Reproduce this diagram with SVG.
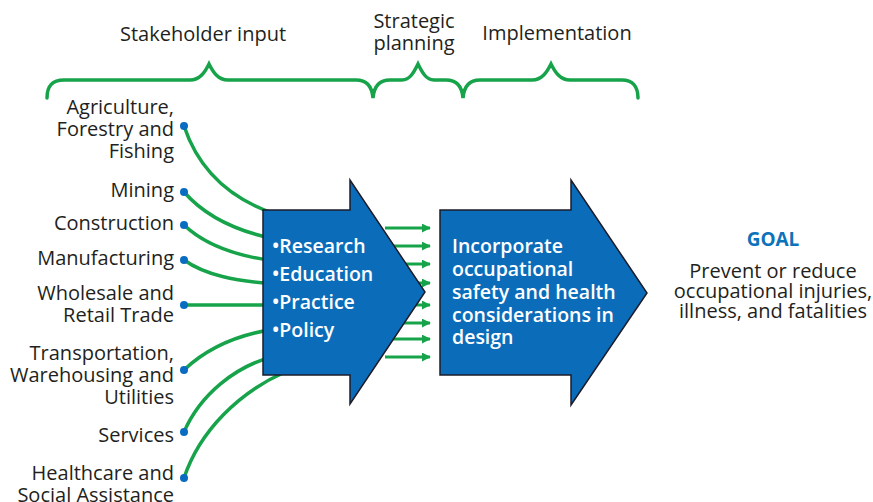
<svg xmlns="http://www.w3.org/2000/svg" width="873" height="502" viewBox="0 0 873 502">
<defs>
<style>
.t{font-family:"Open Sans","Liberation Sans",sans-serif;font-size:20px;fill:#231f20}
.l{text-anchor:end}
.w{font-family:"Open Sans","Liberation Sans",sans-serif;font-size:19.5px;font-weight:600;fill:#ffffff}
.g{fill:none;stroke:#16a34a;stroke-width:3.5;stroke-linecap:round}
.a{fill:none;stroke:#16a34a;stroke-width:3;marker-end:url(#ah)}
.dot{fill:#0a6cc0}
.blk{fill:#0b6dba;stroke:#1c1c2a;stroke-width:1.5;stroke-linejoin:miter}
</style>
<marker id="ah" viewBox="0 0 10 10" refX="9" refY="5" markerWidth="3" markerHeight="3" orient="auto" markerUnits="strokeWidth">
<path d="M0,0 L10,5 L0,10 z" fill="#16a34a"/>
</marker>
</defs>
<rect width="873" height="502" fill="#ffffff"/>
<g id="headers">
<text class="t" x="203" y="41" text-anchor="middle">Stakeholder input</text>
<text class="t" x="414" y="28" text-anchor="middle">Strategic</text>
<text class="t" x="414" y="50" text-anchor="middle">planning</text>
<text class="t" x="557" y="40" text-anchor="middle">Implementation</text>
<path class="g" stroke-width="4" d="M47,98 C47,86 52,80 64,80 L190,80 C200,80 205,72 209,64 C213,72 218,80 228,80 L356,80 C366,80 372,86 373,98 C374,86 380,80 390,80 L402,80 C410,80 414,72 418,64 C422,72 426,80 434,80 L446,80 C456,80 462,86 463,98 C464,86 470,80 480,80 L532,80 C542,80 547,72 551,64 C555,72 560,80 570,80 L622,80 C632,80 638,86 638,98"/>
</g>
<g id="connectors">
<path class="g" d="M184,126 C198,168 228,198 275,214"/>
<path class="g" d="M184,192 C205,216 235,231 275,239"/>
<path class="g" d="M184,225 C205,245 235,256 275,261"/>
<path class="g" d="M184,260 C205,275 235,281 275,284"/>
<path class="g" d="M184,305 L275,305"/>
<path class="g" d="M184,370 C205,350 235,335 275,329"/>
<path class="g" d="M184,432 C200,395 235,366 275,356"/>
<path class="g" d="M184,478 C200,430 240,392 285,372"/>
<line class="a" x1="385" y1="228" x2="430" y2="228"/>
<line class="a" x1="385" y1="246" x2="430" y2="246"/>
<line class="a" x1="385" y1="264" x2="430" y2="264"/>
<line class="a" x1="385" y1="283" x2="430" y2="283"/>
<line class="a" x1="385" y1="305" x2="430" y2="305"/>
<line class="a" x1="385" y1="323" x2="430" y2="323"/>
<line class="a" x1="385" y1="339" x2="430" y2="339"/>
<line class="a" x1="385" y1="357" x2="430" y2="357"/>
</g>
<g id="sources">
<circle class="dot" cx="184" cy="126" r="4"/>
<circle class="dot" cx="184" cy="192" r="4"/>
<circle class="dot" cx="184" cy="225" r="4"/>
<circle class="dot" cx="184" cy="260" r="4"/>
<circle class="dot" cx="184" cy="305" r="4"/>
<circle class="dot" cx="184" cy="370" r="4"/>
<circle class="dot" cx="184" cy="432" r="4"/>
<circle class="dot" cx="184" cy="478" r="4"/>
<text class="t l" x="174" y="114">Agriculture,</text>
<text class="t l" x="174" y="136">Forestry and</text>
<text class="t l" x="174" y="158">Fishing</text>
<text class="t l" x="174" y="197">Mining</text>
<text class="t l" x="174" y="230">Construction</text>
<text class="t l" x="174" y="265">Manufacturing</text>
<text class="t l" x="174" y="300">Wholesale and</text>
<text class="t l" x="174" y="322">Retail Trade</text>
<text class="t l" x="174" y="360">Transportation,</text>
<text class="t l" x="174" y="382">Warehousing and</text>
<text class="t l" x="174" y="404">Utilities</text>
<text class="t l" x="174" y="442">Services</text>
<text class="t l" x="174" y="480">Healthcare and</text>
<text class="t l" x="174" y="502">Social Assistance</text>
</g>
<g id="planning">
<polygon class="blk" points="263,210 350,210 350,180 425,292 350,404 350,375 263,375"/>
<text class="w" x="272" y="253">•Research</text>
<text class="w" x="272" y="281">•Education</text>
<text class="w" x="272" y="309">•Practice</text>
<text class="w" x="272" y="337">•Policy</text>
</g>
<g id="implementation">
<polygon class="blk" points="440,210 571,210 571,180 647,293 571,405 571,375 440,375"/>
<text class="w" x="452" y="253">Incorporate</text>
<text class="w" x="452" y="276">occupational</text>
<text class="w" x="452" y="299">safety and health</text>
<text class="w" x="452" y="322">considerations in</text>
<text class="w" x="452" y="344">design</text>
</g>
<g id="goal">
<text x="773" y="246" text-anchor="middle" style="font-family:'Open Sans','Liberation Sans',sans-serif;font-size:19px;font-weight:700;fill:#0c72ba">GOAL</text>
<text class="t" x="773" y="278" text-anchor="middle">Prevent or reduce</text>
<text class="t" x="773" y="298" text-anchor="middle">occupational injuries,</text>
<text class="t" x="773" y="318" text-anchor="middle">illness, and fatalities</text>
</g>
</svg>
